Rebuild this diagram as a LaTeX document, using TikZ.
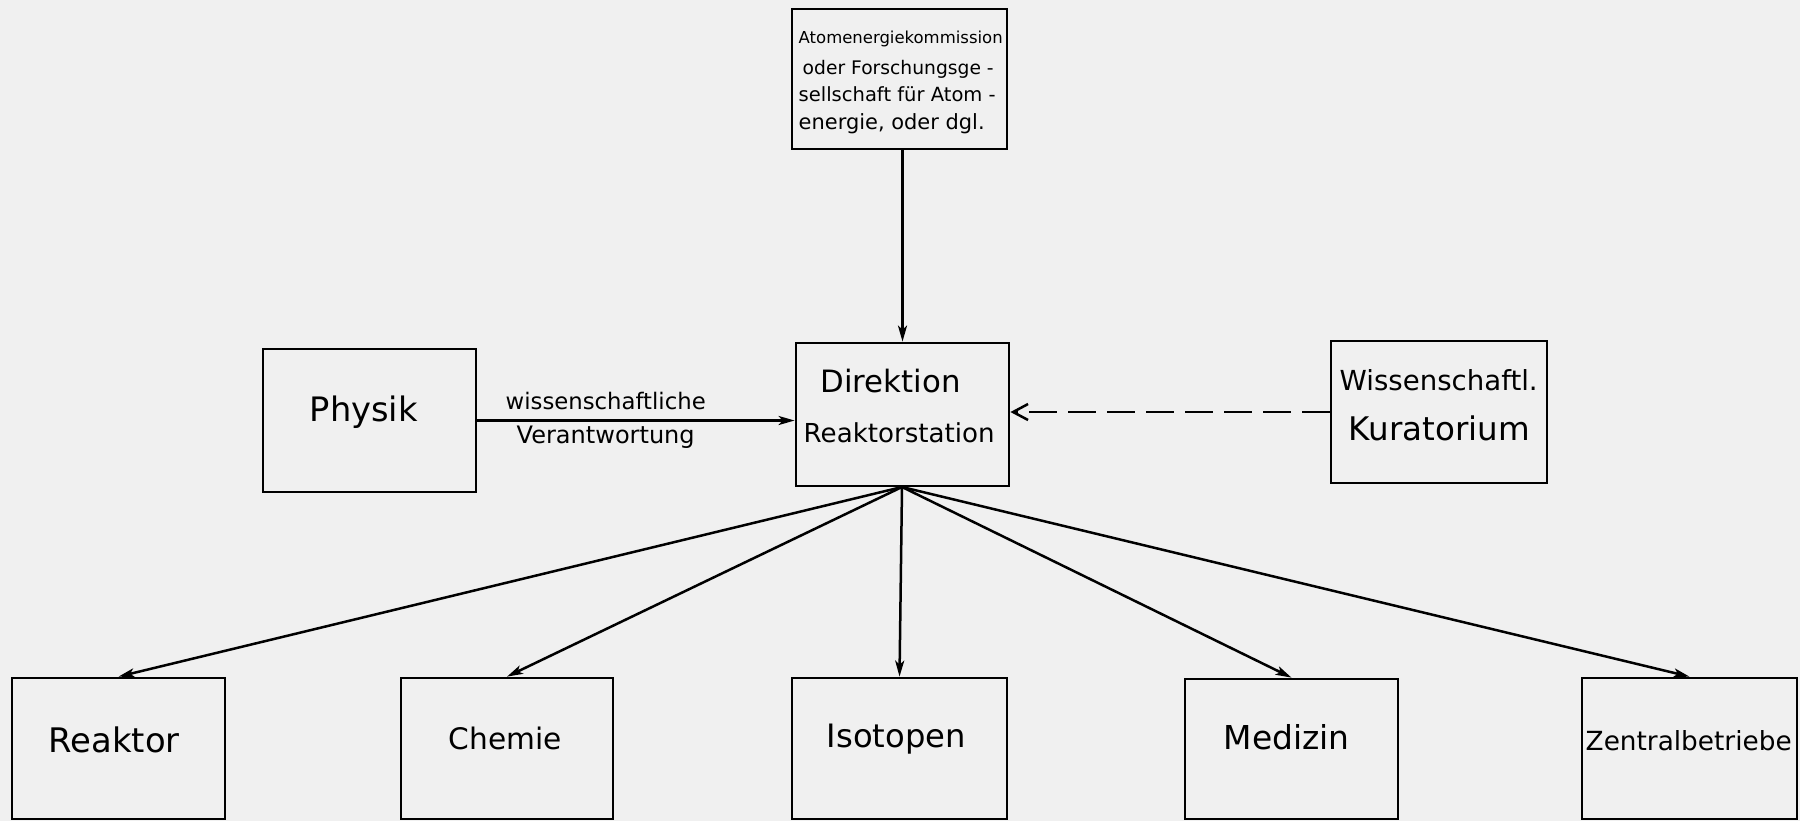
\documentclass[tikz,border=0pt]{standalone}
\usepackage{fontspec}
\setmainfont{DejaVu Sans}
\usetikzlibrary{arrows.meta}
\newlength\pxu
\setlength\pxu{0.1mm}
\newcommand{\fw}[2]{\resizebox{#1\pxu}{!}{#2}}
\begin{document}
\begin{tikzpicture}[x=0.1mm,y=-0.1mm,
  box/.style={draw, line width=0.28mm, inner sep=0pt},
  txt/.style={anchor=base west, inner sep=0pt},
  arr/.style={line width=0.25mm, -{Stealth[length=1.6mm,width=0.9mm,inset=0.4mm]}},
  dsh/.style={line width=0.25mm, dash pattern=on 2.8mm off 1.1mm, -{Straight Barb[length=1.5mm,width=1.6mm]}}]
\fill[black!6] (0,0) rectangle (1800,821);
\useasboundingbox (0,0) rectangle (1800,821);
% boxes
\node[box, minimum width=215\pxu, minimum height=140\pxu] (top) at (899.5,79) {};
\node[box, minimum width=213\pxu, minimum height=143\pxu] (dir) at (902.5,414.5) {};
\node[box, minimum width=213\pxu, minimum height=143\pxu] (phys) at (369.5,420.5) {};
\node[box, minimum width=216\pxu, minimum height=142\pxu] (kur) at (1439,412) {};
\node[box, minimum width=213\pxu, minimum height=141\pxu] (reak) at (118.5,748.5) {};
\node[box, minimum width=212\pxu, minimum height=141\pxu] (chem) at (507,748.5) {};
\node[box, minimum width=215\pxu, minimum height=141\pxu] (iso) at (899.5,748.5) {};
\node[box, minimum width=213\pxu, minimum height=140\pxu] (med) at (1291.5,749) {};
\node[box, minimum width=215\pxu, minimum height=141\pxu] (zen) at (1689.5,748.5) {};
% texts
\node[txt] (t1) at (798,43) {\fw{204}{Atomenergiekommission}};
\node[txt] (t2) at (802,74) {\fw{191}{oder Forschungsge -}};
\node[txt] (t3) at (798,101) {\fw{197}{sellschaft für Atom -}};
\node[txt] (t4) at (798,129) {\fw{186}{energie, oder dgl.}};
\node[txt] (d1) at (820,392) {\fw{140}{Direktion}};
\node[txt] (d2) at (803,442) {\fw{191}{Reaktorstation}};
\node[txt] (p1) at (309,421) {\fw{108}{Physik}};
\node[txt] (k1) at (1339,390) {\fw{198}{Wissenschaftl.}};
\node[txt] (k2) at (1348,440) {\fw{181}{Kuratorium}};
\node[txt] (l1) at (505,409) {\fw{200}{wissenschaftliche}};
\node[txt] (l2) at (516,443) {\fw{178}{Verantwortung}};
\node[txt] (r1) at (48,752) {\fw{131}{Reaktor}};
\node[txt] (c1) at (448,749) {\fw{113}{Chemie}};
\node[txt] (i1) at (826,747) {\fw{139}{Isotopen}};
\node[txt] (m1) at (1223,749) {\fw{126}{Medizin}};
\node[txt] (z1) at (1585,750) {\fw{206}{Zentralbetriebe}};
% connectors
\coordinate (hub) at (902,487);
\draw[arr] (dir.north |- top.south) -- (dir.north);
\draw[arr] (phys.east) -- (phys.east -| dir.west);
\draw[dsh] (kur.west) -- (kur.west -| dir.east);
\draw[arr] (hub) -- (reak.north);
\draw[arr] (hub) -- (chem.north);
\draw[arr] (hub) -- (iso.north);
\draw[arr] (hub) -- (med.north);
\draw[arr] (hub) -- (zen.north);
\end{tikzpicture}
\end{document}
